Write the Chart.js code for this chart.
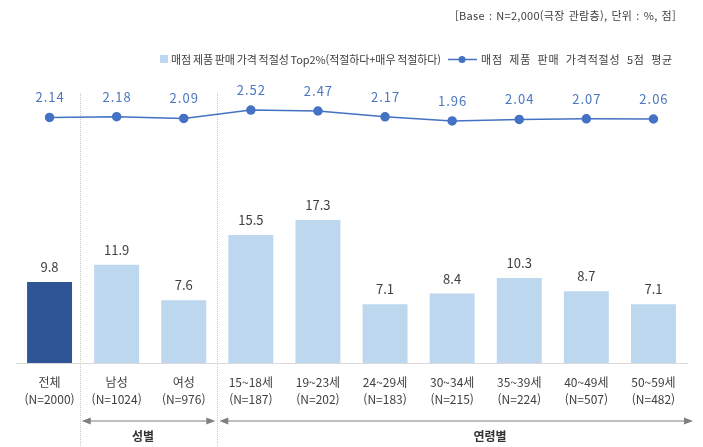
<!DOCTYPE html>
<html lang="ko">
<head>
<meta charset="utf-8">
<script src="https://cdn.jsdelivr.net/npm/chart.js@4"></script>
<style>
    body { margin: 0; background: #ffffff; }
    #wrap { width: 703px; height: 447px; }
</style>
</head>
<body>
<div id="wrap"><canvas id="chart" width="703" height="447"></canvas></div>
<script>
// ################ data ################
const categories = [
    ["전체", "(N=2000)"],
    ["남성", "(N=1024)"],
    ["여성", "(N=976)"],
    ["15~18세", "(N=187)"],
    ["19~23세", "(N=202)"],
    ["24~29세", "(N=183)"],
    ["30~34세", "(N=215)"],
    ["35~39세", "(N=224)"],
    ["40~49세", "(N=507)"],
    ["50~59세", "(N=482)"],
];
const top2Values = [9.8, 11.9, 7.6, 15.5, 17.3, 7.1, 8.4, 10.3, 8.7, 7.1];
const avgValues = [2.14, 2.18, 2.09, 2.52, 2.47, 2.17, 1.96, 2.04, 2.07, 2.06];

const barLabel = "매점 제품 판매 가격 적절성 Top2%(적절하다+매우 적절하다)";
const lineLabel = "매점 제품 판매 가격적절성 5점 평균";
const baseNote = "[Base : N=2,000(극장 관람층), 단위 : %, 점]";

const groups = [
    { label: "성별", from: 0.45, to: 2.5 },
    { label: "연령별", from: 2.5, to: 9.6 },
];

const FONT = '"Noto Sans CJK KR", "Noto Sans", sans-serif';
const DARK = "#2F5597";
const LIGHT = "#BDD7EE";
const LINE = "#4472C4";
const TEXT = "#404040";

// stretch a text to a given width: half by letter gaps, half by word gaps
function fitText(ctx, text, x, y, width) {
    const gaps = text.split(" ").length - 1;
    ctx.wordSpacing = "0px";
    ctx.letterSpacing = "0px";
    const diff = width - ctx.measureText(text).width;
    const ls = (gaps > 0 ? diff * 0.5 : diff) / text.length;
    ctx.letterSpacing = ls + "px";
    if (gaps > 0) ctx.wordSpacing = (diff * 0.5) / gaps + "px";
    ctx.fillText(text, x, y);
    ctx.wordSpacing = "0px";
    ctx.letterSpacing = "0px";
}

// ################ custom drawing ################
const decorPlugin = {
    id: "decor",
    beforeDatasetsDraw(chart) {
        const ctx = chart.ctx;
        const x = chart.scales.x;
        ctx.save();
        // dotted separators
        ctx.strokeStyle = "#c8c8c8";
        ctx.lineWidth = 1;
        ctx.setLineDash([1, 1]);
        [0.45, 2.5].forEach((v) => {
            const px = Math.round(x.getPixelForValue(v)) + 0.5;
            ctx.beginPath();
            ctx.moveTo(px, 93);
            ctx.lineTo(px, 447);
            ctx.stroke();
        });
        ctx.restore();
    },
    afterDraw(chart) {
        const ctx = chart.ctx;
        const x = chart.scales.x;
        ctx.save();

        // base note
        ctx.fillStyle = TEXT;
        ctx.font = "11px " + FONT;
        ctx.textAlign = "left";
        ctx.textBaseline = "middle";
        fitText(ctx, baseNote, 455, 16, 221);

        // legend
        ctx.fillStyle = LIGHT;
        ctx.fillRect(160, 55, 8, 8);
        ctx.fillStyle = TEXT;
        fitText(ctx, barLabel, 171, 59.5, 270);
        ctx.strokeStyle = LINE;
        ctx.lineWidth = 1.5;
        ctx.beginPath();
        ctx.moveTo(448, 59.5);
        ctx.lineTo(477, 59.5);
        ctx.stroke();
        ctx.fillStyle = LINE;
        ctx.beginPath();
        ctx.arc(462, 59.5, 3.5, 0, Math.PI * 2);
        ctx.fill();
        ctx.fillStyle = TEXT;
        fitText(ctx, lineLabel, 481, 59.5, 192);

        // value labels
        ctx.textAlign = "center";
        ctx.font = "13px " + FONT;
        chart.getDatasetMeta(0).data.forEach((el, i) => {
            ctx.fillStyle = TEXT;
            ctx.fillText(top2Values[i].toFixed(1), el.x, el.y - 15);
        });
        ctx.letterSpacing = "1px";
        chart.getDatasetMeta(1).data.forEach((el, i) => {
            ctx.fillStyle = "#4A77C0";
            ctx.fillText(avgValues[i].toFixed(2), el.x + 0.5, el.y - 20);
        });
        ctx.letterSpacing = "0px";

        // group arrows
        ctx.strokeStyle = "#808080";
        ctx.fillStyle = "#808080";
        ctx.lineWidth = 1.2;
        groups.forEach((g, gi) => {
            const x1 = x.getPixelForValue(g.from) + 2;
            const x2 = gi === 0 ? x.getPixelForValue(g.to) - 2 : 693;
            const y = 421;
            ctx.beginPath();
            ctx.moveTo(x1 + 4, y);
            ctx.lineTo(x2 - 4, y);
            ctx.stroke();
            ctx.beginPath();
            ctx.moveTo(x1, y);
            ctx.lineTo(x1 + 9, y - 3.5);
            ctx.lineTo(x1 + 9, y + 3.5);
            ctx.closePath();
            ctx.fill();
            ctx.beginPath();
            ctx.moveTo(x2, y);
            ctx.lineTo(x2 - 9, y - 3.5);
            ctx.lineTo(x2 - 9, y + 3.5);
            ctx.closePath();
            ctx.fill();
        });
        ctx.fillStyle = "#333333";
        ctx.font = "bold 12px " + FONT;
        ctx.fillText(groups[0].label, 143, 436);
        ctx.fillText(groups[1].label, 490, 436);

        ctx.restore();
    },
};

// ################ chart ################
const ctx = document.getElementById("chart").getContext("2d");
const chart = new Chart(ctx, {
    type: "bar",
    data: {
        labels: categories,
        datasets: [
            {
                type: "bar",
                label: barLabel,
                data: top2Values,
                backgroundColor: top2Values.map((v, i) => (i === 0 ? DARK : LIGHT)),
                barPercentage: 0.67,
                categoryPercentage: 1,
                yAxisID: "y",
                order: 2,
            },
            {
                type: "line",
                label: lineLabel,
                data: avgValues,
                borderColor: LINE,
                borderWidth: 1.5,
                pointRadius: 4,
                pointBackgroundColor: LINE,
                pointBorderColor: LINE,
                tension: 0,
                yAxisID: "y1",
                order: 1,
            },
        ],
    },
    options: {
        responsive: false,
        animation: false,
        layout: {
            padding: { top: 80, left: 16, right: 16, bottom: 0 },
        },
        plugins: {
            legend: { display: false },
            tooltip: { enabled: false },
        },
        scales: {
            x: {
                grid: { display: false },
                border: { color: "#d9d9d9" },
                ticks: {
                    color: TEXT,
                    font: { family: FONT, size: 12, lineHeight: 1.4 },
                    padding: 3,
                    maxRotation: 0,
                    autoSkip: false,
                },
                afterFit: function (scale) {
                    scale.height = 84;
                },
            },
            y: {
                display: false,
                min: 0,
                max: 34.26,
            },
            y1: {
                display: false,
                min: -10.45,
                max: 4.06,
            },
        },
    },
    plugins: [decorPlugin],
});
</script>
</body>
</html>
